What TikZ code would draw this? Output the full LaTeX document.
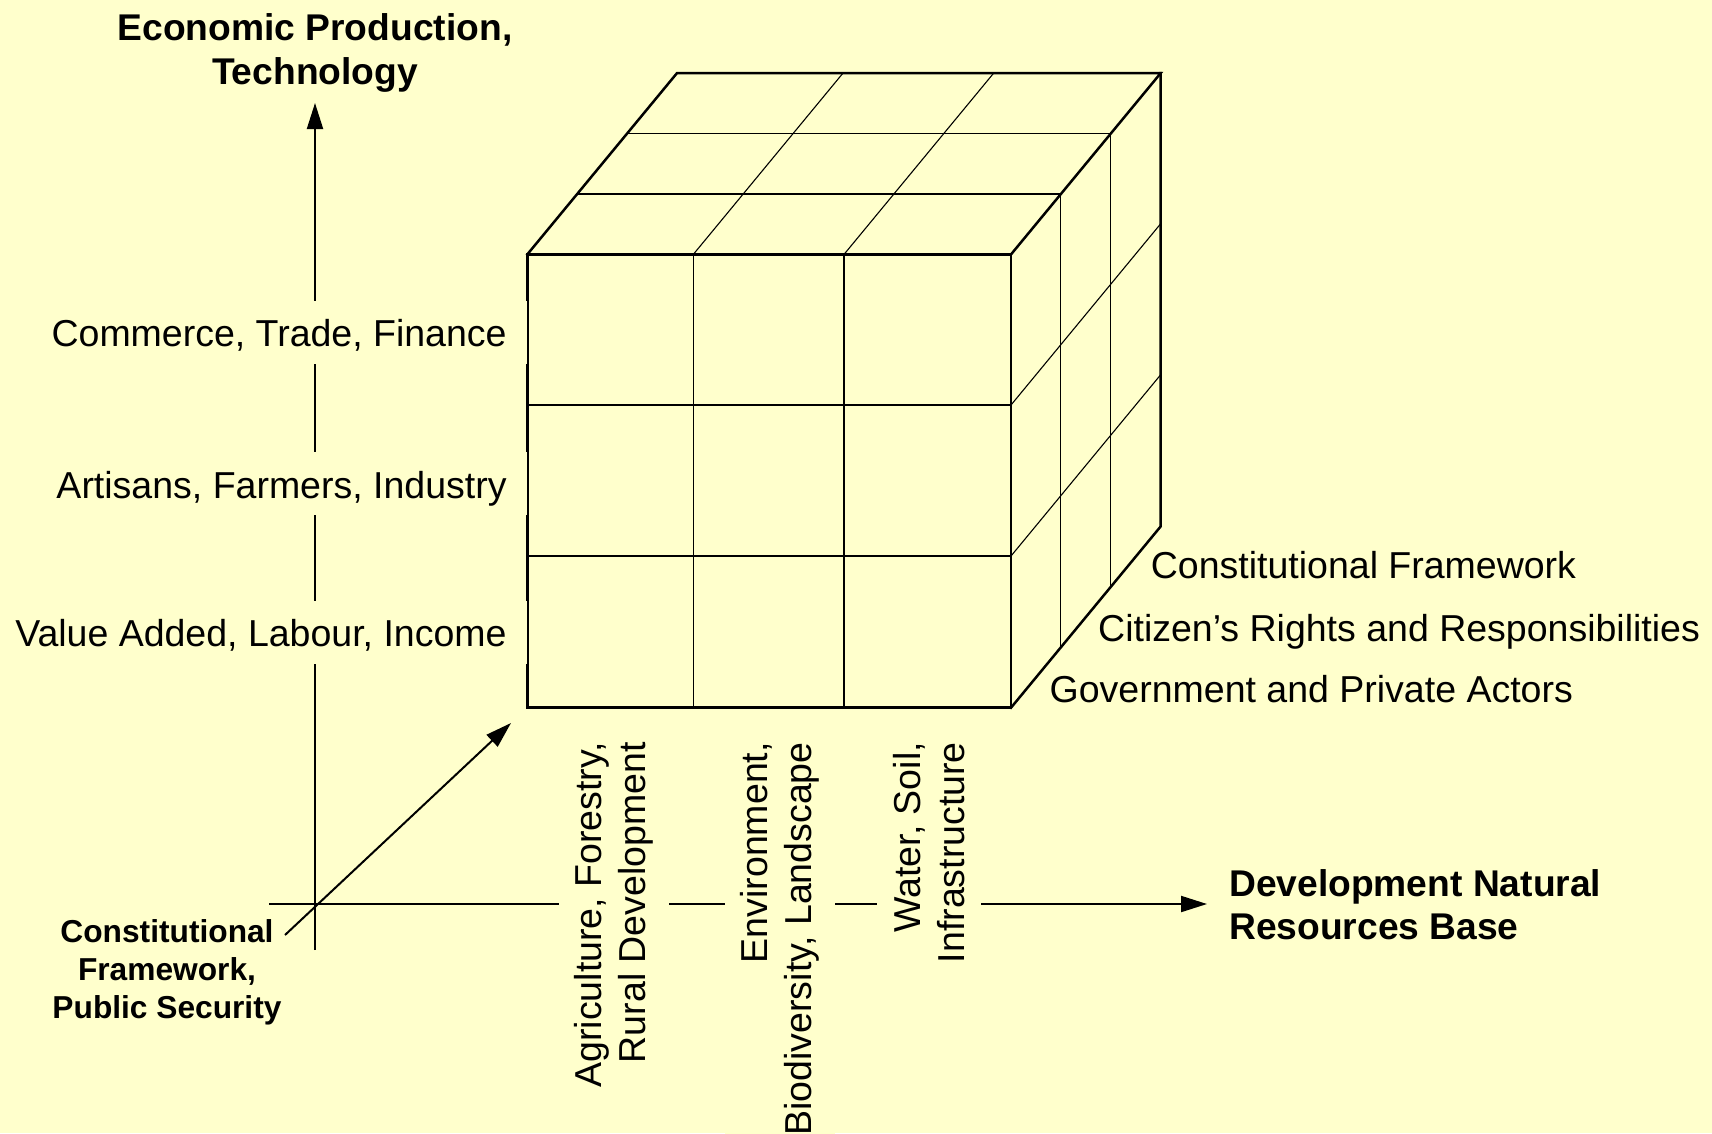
\documentclass[tikz,border=0pt]{standalone}
\usepackage{fontspec}
\setmainfont{Liberation Sans}
\usetikzlibrary{arrows.meta}
\definecolor{bg}{HTML}{FFFFCC}
\begin{document}
\begin{tikzpicture}[x=1pt,y=-1pt,
  outer/.style={line width=2.5pt, line join=miter, line cap=rect},
  inner/.style={line width=1.1pt},
  axis/.style={line width=2pt},
  arr/.style={axis, -{Triangle[length=26pt,width=16pt]}},
  lbl/.style={font=\fontsize{37.5}{43.5}\selectfont, inner sep=0pt},
  blbl/.style={font=\fontsize{37.2}{43.8}\selectfont\bfseries, inner sep=0pt},
  slbl/.style={font=\fontsize{31.7}{38}\selectfont\bfseries, inner sep=0pt, align=center},
  ylbl/.style={lbl, fill=bg, anchor=base east, text height=31pt, text depth=2pt, inner xsep=20.5pt, inner ysep=15pt},
  xlbl/.style={lbl, fill=bg, rotate=90, anchor=east, align=right, inner xsep=0pt, inner ysep=16pt},
  zlbl/.style={lbl, anchor=base west},
]
\fill[bg] (0,0) rectangle (1712,1133);
\useasboundingbox (0,0) rectangle (1712,1133);

% cube corners
\coordinate (FA) at (527.3,254.4);
\coordinate (FB) at (1011,254.4);
\coordinate (FC) at (1011,707.7);
\coordinate (FD) at (527.3,707.7);
\coordinate (BA) at (676.9,73.2);
\coordinate (BB) at (1160.6,73.2);
\coordinate (BC) at (1160.6,526.5);

% inner grid lines
\draw[inner] (693.3,254.4) -- (693.3,707.7);
\draw[inner] (844,254.4) -- (844,707.7);
\draw[inner] (527.3,405) -- (1011,405);
\draw[inner] (527.3,556) -- (1011,556);
\draw[inner] (693.3,254.4) -- (842.9,73.2);
\draw[inner] (844,254.4) -- (993.6,73.2);
\draw[inner] (577.2,194) -- (1060.9,194) -- (1060.9,647.3);
\draw[inner] (627,133.6) -- (1110.7,133.6) -- (1110.7,586.9);
\draw[inner] (1011,405) -- (1160.6,223.8);
\draw[inner] (1011,556) -- (1160.6,374.8);

% outer edges
\draw[outer] (FA) rectangle (FC);
\draw[outer] (FA) -- (BA) -- (BB) -- (FB);
\draw[outer] (BB) -- (BC) -- (FC);

% axes
\coordinate (vbot) at (315,950);
\coordinate (vtop) at (315,103);
\coordinate (hleft) at (269,904);
\coordinate (hright) at (1207,904);
\coordinate (dstart) at (285,935);
\coordinate (dtip) at (511,723);
\draw[arr] (vbot) -- (vtop);
\draw[arr] (hleft) -- (hright);
\draw[arr] (dstart) -- (dtip);

% labels on the vertical axis
\node[ylbl] (commerce) at (527.3,346.7) {Commerce, Trade, Finance};
\node[ylbl] (artisans) at (527.3,498) {Artisans, Farmers, Industry};
\node[ylbl] (value) at (527.3,646.7) {Value Added, Labour, Income};

% labels on the horizontal axis
\node[xlbl] (agri) at (614,742) {Agriculture, Forestry,\\Rural Development};
\node[xlbl] (env) at (780,742) {Environment,\\Biodiversity, Landscape};
\node[xlbl] (water) at (929,742) {Water, Soil,\\Infrastructure};

% labels of the depth axis
\node[zlbl] (cf) at (1150.7,578.3) {Constitutional Framework};
\node[zlbl] (cr) at (1098,641.7) {Citizen’s Rights and Responsibilities};
\node[zlbl] (gp) at (1049.5,702.7) {Government and Private Actors};

% axis titles
\node[blbl, align=center] (ytitle) at (315,53.2) {Economic Production,\\Technology};
\node[blbl, align=left, anchor=west] (xtitle) at (1229,904.7) {Development Natural\\Resources Base};
\node[slbl] (ztitle) at (167,972) {Constitutional\\Framework,\\Public Security};
\end{tikzpicture}
\end{document}
